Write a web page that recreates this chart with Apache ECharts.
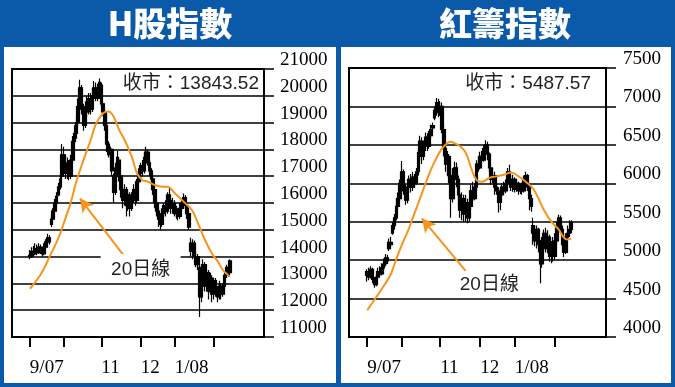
<!DOCTYPE html>
<html><head><meta charset="utf-8">
<script src="https://cdn.jsdelivr.net/npm/echarts/dist/echarts.min.js"></script>
<style>
html,body{margin:0;padding:0;background:#0b5aa9;width:675px;height:387px;overflow:hidden;position:relative;}
.panel{position:absolute;background:#fff;}
#c{position:absolute;left:0;top:0;width:675px;height:387px;}
</style>
</head><body>
<div class="panel" style="left:4px;top:47px;width:332px;height:336px;"></div>
<div class="panel" style="left:341px;top:47px;width:330px;height:336px;"></div>
<div id="c"></div>
<script>
// ---- categories: HK trading days ----
const tradingDays = [
  ['2007-08', [20,21,22,23,24,27,28,29,30,31]],
  ['2007-09', [3,4,5,6,7,10,11,12,13,14,17,18,19,20,21,24,25,27,28]],
  ['2007-10', [2,3,4,5,8,9,10,11,12,15,16,17,18,22,23,24,25,26,29,30,31]],
  ['2007-11', [1,2,5,6,7,8,9,12,13,14,15,16,19,20,21,22,23,26,27,28,29,30]],
  ['2007-12', [3,4,5,6,7,10,11,12,13,14,17,18,19,20,21,24,27,28,31]],
  ['2008-01', [2,3,4,7,8,9,10,11,14,15,16,17,18,21,22,23,24,25,28,29,30,31]],
  ['2008-02', [1,4,5,6,11,12,13,14,15,18,19,20,21,22,25,26,27,28,29]],
  ['2008-03', [3,4,5,6,7,10,11,12,13,14]]
];
const tickMonths = ['2007-09','2007-10','2007-11','2007-12','2008-01','2008-02'];
const monthLabels = {'2007-09':'9/07','2007-11':'11','2007-12':'12','2008-01':'1/08'};
const firstDataDate = '2007-09-03';

const hTitle = 'H股指數';
const rTitle = '紅籌指數';
const hClose = '13843.52';
const rClose = '5487.57';
const maLabel = '20日線';

const hTicks = [11000, 21000, 1000];
const rTicks = [4000, 7500, 500];

// H-share index daily [open, close, low, high]
const hCandles = [
[14050,14000,13900,14250],[14000,14200,13950,14350],[14200,14100,14000,14400],[14100,14300,14050,14500],
[14300,14150,14050,14450],[14150,14350,14100,14500],[14350,14250,14100,14450],[14250,14100,14000,14350],
[14100,14350,14050,14500],[14350,14550,14300,14650],[14550,14700,14450,14850],[14700,14550,14450,14800],
[15200,15400,15100,15550],[15400,15700,15300,15800],[15700,16000,15650,16150],[16000,16250,15900,16400],
[16300,16600,16250,16750],[16600,16900,16500,17100],[17000,17800,16900,18200],[17800,17400,17200,18100],
[17400,17100,16900,17800],[17100,17500,16900,17700],[17500,17000,16850,17600],[17000,17600,16900,17800],
[17600,18300,17500,18500],[18300,18600,18200,18900],[18600,19000,18400,19200],[19000,19600,18800,19900],
[19600,20300,19400,20600],[20300,19500,19300,20400],[19500,18900,18700,19700],[18900,19600,18800,19800],
[19600,19400,19200,20000],[19400,19900,19300,20100],[19900,19500,19300,20100],[19500,20000,19400,20300],
[20000,20300,19900,20550],[20300,19900,19800,20500],[19900,20300,19800,20450],[20300,20500,20100,20650],
[20400,19700,19600,20500],[19700,19400,19250,19800],[19400,18900,18700,19500],[18900,18200,17900,19300],
[18200,17800,17700,18300],[17800,18000,17600,18100],[18000,17200,17000,18000],[17000,16400,16000,17100],
[16400,17300,16300,17500],[17300,17700,17200,17950],[17600,17000,16800,17700],[17000,16500,16200,17100],
[16500,16100,15800,16600],[16100,16500,15900,16700],[16500,15900,15500,16600],[15900,16300,15700,16500],
[16300,15800,15500,16400],[15800,16200,15700,16400],[16200,16500,16000,16700],[16500,16100,15900,16600],
[16100,16800,16000,16900],[16800,17100,16700,17300],[17100,17400,16900,17500],[17400,17200,17000,17600],
[17200,17700,17100,17900],[17700,17900,17500,18100],[17900,17500,17400,18000],[17500,17200,17000,17600],
[17200,16900,16750,17300],[16900,16500,16300,17000],[16500,16000,15800,16600],[16000,15700,15500,16100],
[15700,15400,15100,15800],[15400,15200,15000,15600],[15200,15600,15100,15800],[15600,15900,15500,16000],
[15900,15700,15500,16100],[15700,16300,15600,16400],[16300,16100,15900,16600],[16100,15800,15600,16200],
[15800,16000,15600,16200],[16000,15600,15500,16100],[15600,15700,15400,15900],[15700,15500,15350,15800],
[15500,15800,15400,16000],[15800,16000,15700,16100],[16000,16200,15800,16350],[16200,15900,15800,16300],
[15900,15600,15400,16000],[15600,15100,15000,15700],[14500,14200,14000,14700],[14200,14500,13900,14650],
[14500,14000,13800,14600],[14000,13700,13600,14200],[13700,14000,13500,14100],[13600,12500,11750,13700],
[12500,13300,12300,13500],[13300,13700,13100,13900],[13700,12900,12700,13800],[12900,13400,12700,13500],
[13400,12700,12400,13500],[12700,13200,12600,13400],[13200,12600,12300,13300],[12600,13100,12400,13200],
[13100,12700,12500,13200],[12700,12500,12300,12900],[12500,12900,12400,13100],[12900,12600,12400,13000],
[12600,12900,12500,13000],[12900,13300,12800,13400],[13300,13600,13200,13700],[13500,13400,13250,13650],
[13400,13844,13300,13900]
];
// H-share 20-day MA, read points [day index, value]
const hMA = [[10,12800],[13,13050],[16,13330],[19,13700],[21,14000],[24,14400],[27,14870],[30,15450],
[33,16050],[36,16800],[40,17600],[44,18350],[47,18950],[51,19350],[54,19410],[57,19200],[60,18720],
[63,18350],[67,17730],[70,17100],[73,16850],[76,16800],[80,16670],[84,16610],[87,16610],[91,16370],
[96,16050],[101,15700],[104,15250],[108,14620],[112,14100],[115,13830],[118,13500],[121,13300],[122,13250]];

// Red chip index daily [open, close, low, high]
const rCandles = [
[4800,4850,4720,4880],[4850,4780,4740,4900],[4780,4880,4760,4920],[4880,4750,4700,4900],
[4750,4680,4640,4780],[4680,4780,4660,4820],[4780,4850,4750,4900],[4850,4820,4780,4920],
[4820,4900,4800,4960],[4900,4950,4860,5020],[4950,5030,4920,5080],[5030,4990,4950,5070],
[5150,5230,5120,5280],[5230,5200,5170,5300],[5350,5450,5330,5500],[5450,5550,5400,5600],
[5550,5700,5520,5800],[5700,5800,5650,5880],[5800,6000,5780,6050],[6000,6150,5900,6290],
[6150,5900,5850,6180],[5900,5780,5720,5980],[5780,5950,5740,6000],[5950,6050,5880,6100],
[6050,5950,5880,6120],[5950,6080,5900,6150],[6080,6000,5940,6120],[6000,6150,5980,6200],
[6150,6400,6100,6450],[6400,6550,6300,6620],[6550,6350,6250,6600],[6350,6500,6300,6550],
[6500,6600,6420,6660],[6600,6480,6420,6650],[6480,6620,6450,6680],[6620,6700,6580,6760],
[6720,6750,6690,6790],[6850,6950,6820,7000],[6950,7050,6880,7110],[7050,6920,6860,7100],
[6920,7000,6880,7070],[7000,6700,6650,7050],[6700,6450,6350,6760],[6450,6250,6150,6500],
[6250,6350,6100,6420],[6350,6100,6000,6380],[6100,5800,5550,6150],[5800,6050,5750,6200],
[6050,6200,5980,6280],[6200,6050,5950,6270],[6050,5850,5700,6100],[5850,5650,5550,5900],
[5650,5800,5520,5880],[5800,5600,5500,5850],[5600,5750,5500,5850],[5750,5550,5480,5800],
[5550,5700,5500,5800],[5700,5900,5650,5980],[5900,5800,5760,6020],[5800,5950,5780,6000],
[5950,6250,5900,6300],[6250,6200,6150,6350],[6200,6350,6180,6410],[6350,6300,6250,6420],
[6300,6450,6280,6500],[6450,6500,6380,6560],[6500,6380,6300,6540],[6380,6200,6150,6400],
[6200,6050,5980,6250],[6050,6100,6000,6200],[6100,5950,5850,6150],[5950,5900,5850,6020],
[5900,5750,5620,5950],[5750,5850,5650,5900],[5850,5950,5830,6000],[5950,5900,5860,6020],
[5900,6000,5870,6050],[6000,6150,5980,6200],[6150,6050,6000,6240],[6050,5950,5900,6100],
[5950,6050,5890,6110],[6050,5920,5880,6080],[5920,6000,5890,6060],[6000,5900,5850,6020],
[5900,5950,5860,6000],[5950,5900,5850,6010],[5900,6050,5880,6100],[6050,6100,5950,6150],
[6100,5950,5900,6120],[5950,5800,5650,5980],[5800,5700,5630,5850],[5450,5350,5200,5550],
[5350,5250,5180,5450],[5250,5400,5150,5450],[5400,5200,5100,5420],[5200,4950,4700,5260],
[4950,5250,4900,5300],[5250,5350,5150,5400],[5350,5150,5100,5420],[5150,5300,5090,5390],
[5300,5050,4980,5330],[5050,5200,4960,5250],[5200,5050,4980,5300],[5050,5250,5000,5350],
[5250,5450,5200,5500],[5450,5550,5430,5590],[5550,5400,5350,5580],[5400,5200,5150,5450],
[5200,5100,5040,5250],[5100,5300,5080,5350],[5300,5350,5280,5450],[5350,5400,5300,5520],
[5400,5488,5350,5520]
];
const rMA = [[10,4350],[15,4520],[20,4700],[23,4820],[26,5020],[29,5200],[32,5360],[35,5550],
[38,5740],[42,6000],[45,6180],[48,6330],[51,6450],[54,6525],[56,6540],[58,6520],[61,6480],[64,6400],
[67,6200],[70,6040],[73,6020],[77,6070],[81,6090],[85,6110],[89,6140],[93,6090],[97,6020],[101,5930],
[104,5800],[107,5650],[111,5500],[115,5400],[118,5290],[120,5270],[122,5280]];

// annotation anchors in data space [day index, value]
const hArrow = [[63,13997],[38,16176]];
const rArrow = [[64,4859],[40,5544]];
const hLabelAt = [72,13575];
const rLabelAt = [77,4677];

// ---- build ----
const categories = [];
const monthStart = {};
tradingDays.forEach(([m, days]) => {
  days.forEach((d, i) => {
    const s = m + '-' + String(d).padStart(2,'0');
    if (i === 0) monthStart[s] = m;
    categories.push(s);
  });
});
const startIdx = categories.indexOf(firstDataDate);
function pad(arr){ const out = categories.map(() => '-'); arr.forEach((v,i)=>{ out[startIdx+i] = v; }); return out; }

const ORANGE = '#F7941D';
const serif = '"Liberation Serif","Times New Roman",serif';
const sans = '"Liberation Sans","Noto Sans CJK TC",sans-serif';

function xAxis(gi){
  return {
    gridIndex: gi, type:'category', data: categories, boundaryGap:false,
    axisLine:{lineStyle:{color:'#000', width:2}},
    axisTick:{show:true, length:10, lineStyle:{color:'#000', width:2},
      interval:(i, v) => monthStart[v] !== undefined && tickMonths.includes(monthStart[v])},
    axisLabel:{interval:(i, v) => monthStart[v] !== undefined && monthLabels[monthStart[v]] !== undefined,
      formatter:(v) => monthLabels[monthStart[v]] || '',
      align:'left', margin:22, fontSize:19, fontFamily:serif, color:'#000'},
    splitLine:{show:false}
  };
}
function yAxis(gi, t, margin){
  return {
    gridIndex: gi, type:'value', position:'right', min:t[0], max:t[1], interval:t[2],
    axisLine:{show:true, lineStyle:{color:'#000', width:2}},
    axisTick:{show:true, length:10, lineStyle:{color:'#000', width:1.5}},
    axisLabel:{margin:margin, fontSize:19, fontFamily:serif, color:'#000', verticalAlign:'bottom', lineHeight:18,
      formatter:(v) => String(v)},
    splitLine:{show:true, lineStyle:{color:'#000', width:1.5}}
  };
}
function candle(xi, data){
  return { type:'candlestick', xAxisIndex:xi, yAxisIndex:xi, data: pad(data), barWidth:3,
    itemStyle:{color:'#000', color0:'#000', borderColor:'#000', borderColor0:'#000', borderWidth:1.2}, silent:true };
}
function ma(xi, pts, arrow, labelAt, boxed){
  return { type:'line', xAxisIndex:xi, yAxisIndex:xi, data: pts, smooth:0.4, showSymbol:false, z:3,
    lineStyle:{color:ORANGE, width:2}, silent:true,
    markLine:{silent:true, symbol:['none','arrow'], symbolSize:[11,14], label:{show:false},
      lineStyle:{color:ORANGE, width:2, type:'solid'}, itemStyle:{color:ORANGE},
      data:[[{coord:arrow[0]},{coord:arrow[1]}]]},
    markPoint:{silent:true, symbol:'rect', symbolSize: boxed ? [80,28] : [66,20],
      itemStyle:{color:'#fff'},
      label:{show:true, position:'inside', formatter:maLabel, color:'#231f20', fontSize:19, fontFamily:sans, offset:[0, boxed?2:0]},
      data:[{coord:labelAt}]}
  };
}

const chart = echarts.init(document.getElementById('c'), null, {renderer:'canvas'});
chart.setOption({
  animation:false,
  backgroundColor:'transparent',
  grid:[
    {left:12, top:69, width:252, height:268, show:true, borderColor:'#000', borderWidth:2, backgroundColor:'transparent'},
    {left:349, top:68, width:257, height:269, show:true, borderColor:'#000', borderWidth:2, backgroundColor:'transparent'}
  ],
  xAxis:[xAxis(0), xAxis(1)],
  yAxis:[yAxis(0, hTicks, 16), yAxis(1, rTicks, 17)],
  series:[
    candle(0, hCandles), ma(0, hMA, hArrow, hLabelAt, true),
    candle(1, rCandles), ma(1, rMA, rArrow, rLabelAt, false)
  ],
  graphic:[
    {type:'text', x:170, y:23, style:{text:hTitle, align:'center', verticalAlign:'middle', fill:'#fff', font:'900 33px "Noto Sans CJK TC"'}},
    {type:'text', x:505, y:23, style:{text:rTitle, align:'center', verticalAlign:'middle', fill:'#fff', font:'900 33px "Noto Sans CJK TC"'}},
    {type:'text', x:259, y:84, style:{text:'收市：' + hClose, align:'right', verticalAlign:'middle', fill:'#231f20', font:'19px "Liberation Sans","Noto Sans CJK TC"'}},
    {type:'text', x:591, y:84, style:{text:'收市：' + rClose, align:'right', verticalAlign:'middle', fill:'#231f20', font:'19px "Liberation Sans","Noto Sans CJK TC"'}}
  ]
});
</script>
</body></html>
